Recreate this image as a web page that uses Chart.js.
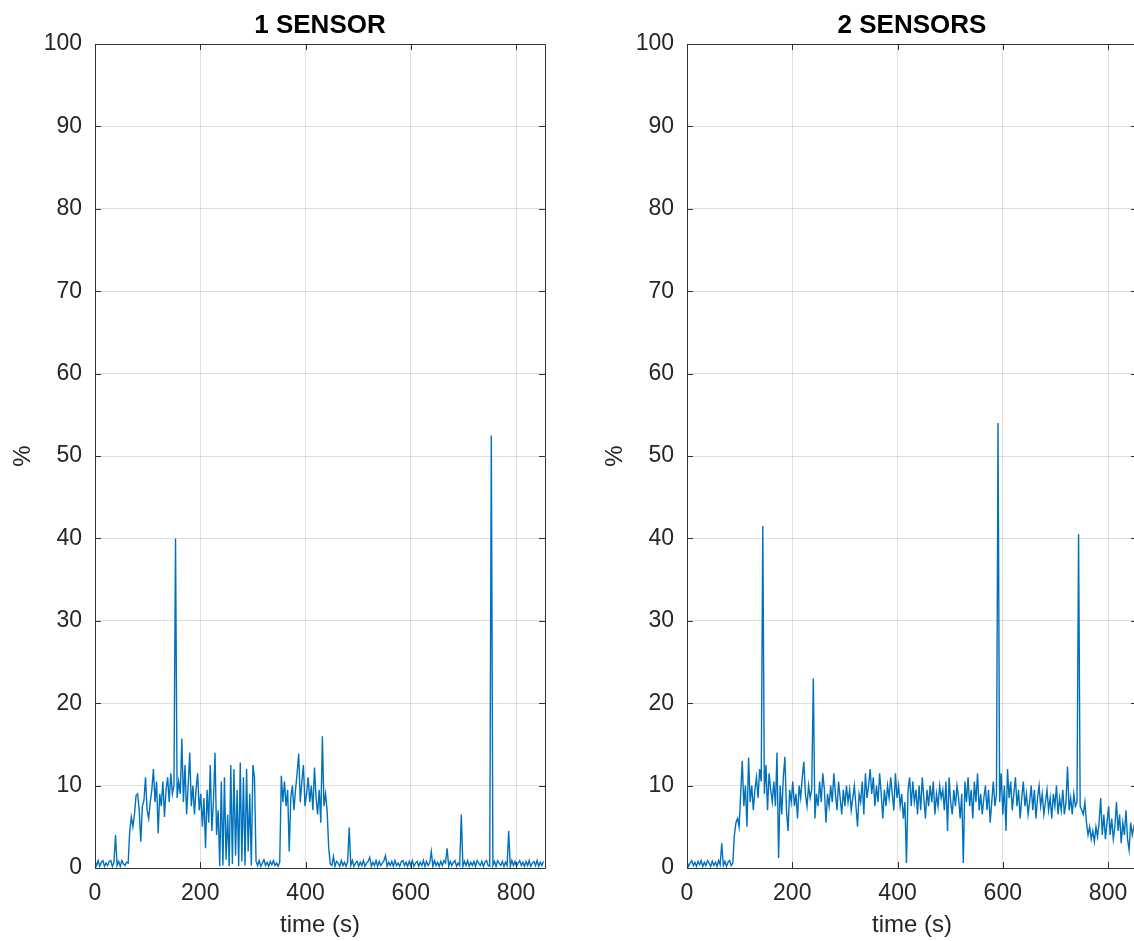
<!DOCTYPE html>
<html>
<head>
<meta charset="utf-8">
<script src="https://cdn.jsdelivr.net/npm/chart.js@4.4.0/dist/chart.umd.min.js"></script>
<style>
  html, body { margin: 0; padding: 0; background: #fff; overflow: hidden; width: 1134px; height: 941px; }
  .panel { position: absolute; top: 0; }
</style>
</head>
<body>
<div class="panel" style="left:0px"><canvas id="left" width="560" height="941"></canvas></div>
<div class="panel" style="left:592px"><canvas id="right" width="560" height="941"></canvas></div>
<script>
// sample step of the readings (seconds)
const step = 3;

// 1 SENSOR readings (%), one every 3 s
const oneSensor = [
  0.8,0.3,0.9,0.2,0.7,0.9,0.2,0.6,0.3,0.8,
  0.9,0.2,0.7,4.0,0.3,0.8,0.2,0.9,0.5,0.3,
  0.7,0.6,4.5,6.2,5.0,6.5,8.8,9.0,7.0,3.2,
  7.5,8.2,11.0,7.0,6.0,8.0,9.5,12.0,8.0,10.5,
  4.2,9.0,7.5,10.5,6.2,9.5,11.0,8.0,11.5,9.0,
  10.0,40.0,8.5,10.5,9.0,15.7,8.0,12.5,6.5,10.0,
  14.0,7.5,10.0,6.5,9.5,11.5,7.0,9.0,5.0,8.5,
  2.4,9.5,5.5,12.5,4.5,8.0,14.0,4.0,7.0,0.2,
  10.5,0.3,11.0,1.0,6.5,0.2,12.5,0.5,12.0,1.5,
  9.5,0.2,12.8,0.8,11.0,0.3,12.0,2.0,9.0,0.3,
  12.5,11.0,0.8,0.3,0.9,0.2,0.6,1.0,0.3,0.7,
  0.2,0.8,0.4,0.9,0.3,0.6,0.2,0.7,
  11.2,8.0,10.5,7.5,9.5,2.0,8.5,10.0,7.0,9.5,
  11.5,13.9,8.0,10.5,12.5,7.5,9.0,11.0,8.0,10.0,
  7.0,12.2,8.5,6.5,9.5,5.5,16.0,7.5,9.0,7.0,
  2.5,0.5,
  0.3,1.4,0.2,0.8,0.6,0.2,0.9,0.3,0.7,0.2,
  0.8,4.9,0.3,0.9,0.2,0.6,0.8,0.2,0.7,0.3,
  0.9,0.2,0.6,0.8,1.3,0.2,0.7,0.3,0.9,0.2,
  0.8,0.3,0.6,0.9,1.5,0.2,0.7,0.3,0.8,0.2,
  0.9,0.3,0.6,0.2,0.8,0.9,0.3,0.7,0.2,0.8,
  0.3,0.9,0.2,0.6,0.8,0.2,0.7,0.3,0.9,0.2,
  0.8,0.3,0.6,2.0,0.2,0.9,0.3,0.7,0.2,0.8,
  0.3,0.9,0.6,2.4,0.2,0.8,0.3,0.7,0.9,0.2,
  0.6,0.3,6.5,0.2,0.8,0.3,0.9,0.2,0.7,0.3,
  0.8,0.2,0.9,0.6,0.3,0.8,0.2,0.7,0.9,0.3,
  0.2,52.5,0.3,0.8,0.2,0.9,0.6,0.3,0.8,0.2,
  0.7,0.3,4.5,0.2,0.9,0.3,0.8,0.2,0.6,0.9,
  0.3,0.7,0.2,0.8,0.3,0.9,0.2,0.6,0.8,0.3,
  0.9,0.2,0.7,0.3,0.8
];

// 2 SENSORS readings (%), one every 3 s
const twoSensors = [
  0.8,0.2,0.6,0.9,0.3,0.7,0.2,0.8,0.4,0.9,
  0.2,0.7,0.3,0.9,0.6,0.2,0.8,0.3,0.7,0.2,
  0.9,0.4,3.0,0.3,0.8,0.2,0.7,0.9,0.3,0.6,
  4.0,5.5,6.0,5.0,9.0,13.0,7.5,10.0,5.0,13.4,
  8.0,10.0,7.0,9.5,11.0,8.5,12.0,10.5,41.5,9.0,
  12.5,7.0,11.5,9.5,8.0,10.5,7.5,14.0,1.2,10.0,
  6.5,11.0,13.5,7.0,4.5,9.5,8.0,10.5,7.5,9.0,
  6.0,10.0,8.5,11.0,12.9,9.0,7.5,10.0,8.5,9.5,
  23.0,6.0,9.0,7.5,10.5,8.0,11.5,9.5,5.5,9.0,
  7.5,10.0,8.0,11.5,9.0,7.0,10.5,8.5,6.5,9.5,
  7.5,10.0,8.0,9.5,7.0,8.5,10.0,7.5,5.0,9.0,
  8.0,10.5,6.5,11.5,8.5,10.0,12.0,9.0,11.0,7.5,
  10.0,8.0,11.5,9.0,6.0,9.5,7.5,10.0,8.5,11.0,
  9.0,7.0,11.5,8.5,10.0,7.5,9.0,6.0,8.0,0.6,
  9.5,11.0,7.5,10.5,8.0,9.5,6.5,10.0,7.0,11.0,
  8.5,6.0,9.5,7.5,10.0,8.0,10.5,6.5,9.0,7.5,
  10.0,8.5,9.5,7.0,10.5,4.5,11.0,8.0,6.5,9.5,
  7.5,10.0,8.5,6.0,9.0,0.6,10.5,8.0,11.0,7.5,
  9.5,6.0,10.5,8.0,11.5,7.0,9.0,6.5,8.5,10.0,
  7.0,9.5,5.5,8.0,10.5,7.5,9.0,54.0,8.0,11.5,
  6.5,10.0,4.5,12.0,8.5,10.5,7.0,9.0,11.0,7.5,
  9.5,6.0,8.5,10.5,7.5,9.0,6.5,8.0,10.0,7.0,
  9.5,6.0,8.5,10.0,7.5,9.0,6.5,8.0,9.5,7.0,
  8.5,6.0,9.0,7.5,10.0,6.5,8.5,7.0,9.5,6.5,
  8.0,12.3,7.0,8.5,6.5,9.0,7.5,8.0,40.5,7.5,
  7.0,6.5,8.0,5.5,4.0,5.0,3.5,4.5,3.2,5.0,
  3.8,5.5,8.5,4.0,6.5,3.5,5.5,7.5,4.0,6.0,
  3.5,5.0,8.0,4.5,6.5,3.0,5.5,4.0,7.0,3.5,
  2.2,5.5,4.0,5.0,4.5
];

const xTicks = [0, 200, 400, 600, 800];
const yTicks = [0, 10, 20, 30, 40, 50, 60, 70, 80, 90, 100];

const axisColor = '#262626';
const gridColor = 'rgba(38,38,38,0.15)';
const lineColor = '#0072BD';
const fontFamily = '"Liberation Sans", Arial, Helvetica, sans-serif';

// MATLAB style box with inward ticks
const boxPlugin = {
  id: 'box',
  afterDraw(chart) {
    const { ctx, chartArea: a, scales } = chart;
    const len = 6;
    ctx.save();
    ctx.strokeStyle = '#333';
    ctx.lineWidth = 1;
    ctx.beginPath();
    ctx.rect(Math.round(a.left) + 0.5, Math.round(a.top) + 0.5, Math.round(a.right - a.left), Math.round(a.bottom - a.top));
    xTicks.forEach(v => {
      const px = Math.round(scales.x.getPixelForValue(v)) + 0.5;
      ctx.moveTo(px, a.bottom); ctx.lineTo(px, a.bottom - len);
      ctx.moveTo(px, a.top); ctx.lineTo(px, a.top + len);
    });
    yTicks.forEach(v => {
      const py = Math.round(scales.y.getPixelForValue(v)) + 0.5;
      ctx.moveTo(a.left, py); ctx.lineTo(a.left + len, py);
      ctx.moveTo(a.right, py); ctx.lineTo(a.right - len, py);
    });
    ctx.stroke();
    ctx.restore();
  }
};

function makeChart(id, title, values) {
  const points = values.map((v, i) => ({ x: i * step, y: v }));
  return new Chart(document.getElementById(id), {
    type: 'line',
    data: {
      datasets: [{
        data: points,
        borderColor: lineColor,
        borderWidth: 1.4,
        pointRadius: 0,
        tension: 0,
        fill: false
      }]
    },
    options: {
      responsive: false,
      animation: false,
      layout: { padding: { left: 0, right: 15, top: 0, bottom: 0 } },
      plugins: {
        legend: { display: false },
        tooltip: { enabled: false },
        title: {
          display: true,
          fullSize: false,   // centre over the plot area, like MATLAB
          text: title,
          color: '#000',
          font: { family: fontFamily, size: 26, weight: 'bold', lineHeight: '30px' },
          padding: { top: 11, bottom: 3 }
        }
      },
      scales: {
        x: {
          type: 'linear',
          min: 0,
          max: 855,
          afterFit: s => { s.height = 73; },
          afterBuildTicks: s => { s.ticks = xTicks.map(v => ({ value: v })); },
          ticks: { color: axisColor, font: { family: fontFamily, size: 23 }, padding: 12, maxRotation: 0 },
          grid: { color: gridColor, drawTicks: false },
          border: { display: false },
          title: { display: true, text: 'time (s)', color: axisColor, font: { family: fontFamily, size: 24 }, padding: { top: 0, bottom: 1 } }
        },
        y: {
          min: 0,
          max: 100,
          afterFit: s => { s.width = 95; },
          afterBuildTicks: s => { s.ticks = yTicks.map(v => ({ value: v })); },
          ticks: { color: axisColor, font: { family: fontFamily, size: 23 }, padding: 13 },
          grid: { color: gridColor, drawTicks: false },
          border: { display: false },
          title: { display: true, text: '%', color: axisColor, font: { family: fontFamily, size: 24 }, padding: { top: 9, bottom: 0 } }
        }
      }
    },
    plugins: [boxPlugin]
  });
}

makeChart('left', '1 SENSOR', oneSensor);
makeChart('right', '2 SENSORS', twoSensors);
</script>
</body>
</html>
